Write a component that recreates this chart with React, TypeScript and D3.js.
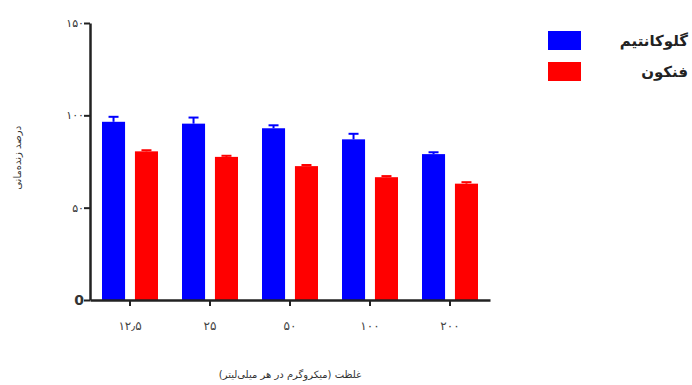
import { useRef, useEffect } from "react";
import { select, scaleBand, scaleLinear, axisBottom, axisLeft } from "d3";

const categories = ["۱۲٫۵", "۲۵", "۵۰", "۱۰۰", "۲۰۰"];
const seriesNames = ["گلوکانتیم", "فنکون"];
const seriesColors = ["#0000ff", "#ff0000"];
const glucantimeValues = [96.5, 95.5, 93, 87, 79];
const glucantimeErrors = [2.7, 3.3, 1.6, 3, 1];
const fenconValues = [80.5, 77.5, 72.5, 66.5, 63];
const fenconErrors = [0.6, 0.6, 0.6, 0.6, 0.8];
const yTicks = [0, 50, 100, 150];
const yTickLabels = ["0", "۵۰", "۱۰۰", "۱۵۰"];

function Chart() {
  const svgRef = useRef<SVGSVGElement | null>(null);
  const width = 692;
  const height = 385;

  useEffect(() => {
    if (!svgRef.current) return;
    const svg = select(svgRef.current);
    svg.selectAll("*").remove();

    const margin = { left: 90, right: 202, top: 23, bottom: 85 };
    const font = "DejaVu Sans, sans-serif";

    const x0 = scaleBand<string>()
      .domain(categories)
      .range([margin.left, width - margin.right]);
    const x1 = scaleBand<string>()
      .domain(seriesNames)
      .range([12, 68])
      .paddingInner(0.3);
    const y = scaleLinear()
      .domain([0, 150])
      .range([height - margin.bottom, margin.top]);

    const series = [
      { name: seriesNames[0], values: glucantimeValues, errors: glucantimeErrors, color: seriesColors[0] },
      { name: seriesNames[1], values: fenconValues, errors: fenconErrors, color: seriesColors[1] },
    ];

    // bars + error bars
    series.forEach((s) => {
      const g = svg.append("g");
      categories.forEach((c, i) => {
        const bx = x0(c)! + x1(s.name)!;
        const bw = x1.bandwidth();
        const cx = bx + bw / 2;
        const top = y(s.values[i] + s.errors[i]);
        g.append("line")
          .attr("x1", cx).attr("x2", cx)
          .attr("y1", y(s.values[i])).attr("y2", top)
          .attr("stroke", s.color).attr("stroke-width", 2);
        g.append("line")
          .attr("x1", cx - 5).attr("x2", cx + 5)
          .attr("y1", top).attr("y2", top)
          .attr("stroke", s.color).attr("stroke-width", 2);
        g.append("rect")
          .attr("x", bx)
          .attr("y", y(s.values[i]))
          .attr("width", bw)
          .attr("height", y(0) - y(s.values[i]))
          .attr("fill", s.color);
      });
    });

    // y axis
    svg
      .append("g")
      .attr("transform", `translate(${margin.left}, 0)`)
      .call(
        axisLeft(y)
          .tickValues(yTicks)
          .tickSize(6)
          .tickSizeOuter(0)
          .tickFormat((_, i) => yTickLabels[i])
      )
      .call((g) => g.select(".domain").attr("stroke", "#222").attr("stroke-width", 2.5))
      .call((g) => g.selectAll(".tick line").attr("stroke", "#222").attr("stroke-width", 2))
      .call((g) =>
        g
          .selectAll(".tick text")
          .attr("font-family", font)
          .attr("font-size", (_, i) => (i === 0 ? 14 : 11))
          .attr("font-weight", (_, i) => (i === 0 ? "bold" : "normal"))
          .attr("fill", "#333")
          .attr("x", -6)
      );

    // x axis
    svg
      .append("g")
      .attr("transform", `translate(0, ${y(0)})`)
      .call(axisBottom(x0).tickSize(6).tickSizeOuter(0))
      .call((g) => g.select(".domain").attr("stroke", "#222").attr("stroke-width", 2.5))
      .call((g) => g.selectAll(".tick line").attr("stroke", "#222").attr("stroke-width", 2))
      .call((g) =>
        g
          .selectAll(".tick text")
          .attr("font-family", font)
          .attr("font-size", 12)
          .attr("fill", "#444")
          .attr("y", 21)
      );

    // axis titles
    svg
      .append("text")
      .attr("transform", `translate(21, ${y(77)}) rotate(-90)`)
      .attr("text-anchor", "middle")
      .attr("font-family", font)
      .attr("font-size", 10)
      .attr("fill", "#333")
      .text("درصد زنده‌مانی");

    svg
      .append("text")
      .attr("x", 290)
      .attr("y", 378)
      .attr("text-anchor", "middle")
      .attr("font-family", font)
      .attr("font-size", 10)
      .attr("fill", "#333")
      .text("غلظت (میکروگرم در هر میلی‌لیتر)");

    // legend
    const legend = svg.append("g");
    series.forEach((s, i) => {
      const ly = 31 + i * 31;
      legend
        .append("rect")
        .attr("x", 548)
        .attr("y", ly)
        .attr("width", 33)
        .attr("height", 19)
        .attr("fill", s.color);
      legend
        .append("text")
        .attr("x", 688)
        .attr("y", ly + 10)
        .attr("dy", "0.35em")
        .attr("text-anchor", "end")
        .attr("font-family", font)
        .attr("font-size", 15)
        .attr("font-weight", "bold")
        .attr("fill", "#222")
        .text(s.name);
    });
  }, []);

  return (
    <svg
      ref={svgRef}
      width={width}
      height={height}
      viewBox={`0 0 ${width} ${height}`}
      style={{ display: "block", background: "#fff" }}
    ></svg>
  );
}

export default function App() {
  return (
    <div style={{ position: "absolute", left: 0, top: 0 }}>
      <Chart />
    </div>
  );
}
